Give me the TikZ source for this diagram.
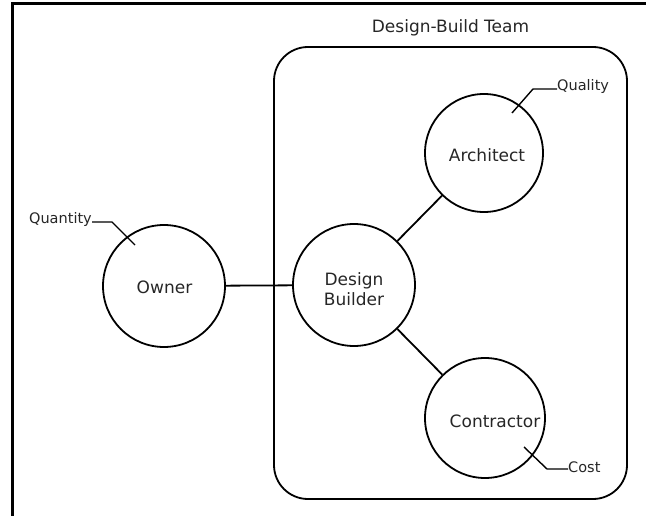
\documentclass[tikz,border=0pt]{standalone}
\usepackage{fontspec}
\setmainfont{DejaVu Sans}
\begin{document}
\begin{tikzpicture}[x=1pt,y=-1pt,
  role/.style={circle,draw=black,line width=1.8pt,inner sep=0pt},
  lbl/.style={font=\fontsize{17}{20}\selectfont,text=black!85,inner sep=0pt,align=center},
  small/.style={font=\fontsize{14.5}{16}\selectfont,text=black!85,inner sep=0pt},
  link/.style={line width=1.8pt},
  leader/.style={line width=1.4pt},
  teambox/.style={draw=black,line width=1.8pt,rounded corners=34pt,inner sep=0pt}]
\useasboundingbox (0,0) rectangle (646,516);
% outer frame (top and left edges)
\coordinate (fbl) at (12,516);
\coordinate (ftl) at (12,3.5);
\coordinate (ftr) at (646,3.5);
\draw[line width=3pt] (fbl) -- (ftl) -- (ftr);
% team box
\node[teambox,minimum width=353pt,minimum height=452pt] (team) at (450.5,273) {};
\node[lbl] (title) at (450.5,28) {Design-Build Team};
% circles
\node[role,minimum size=122pt] (owner) at (164,286) {};
\node[role,minimum size=122pt] (db) at (354,285) {};
\node[role,minimum size=118pt] (arch) at (484,153) {};
\node[role,minimum size=120pt] (con) at (485,418) {};
% labels
\node[lbl] (ownerT) at (164.5,287) {Owner};
\node[lbl] (dbT) at (354,289) {Design\\Builder};
\node[lbl] (archT) at (487,155) {Architect};
\node[lbl] (conT) at (495,421) {Contractor};
% connectors
\draw[link] (owner) -- (db);
\draw[link] (db) -- (arch);
\draw[link] (db) -- (con);
% leaders
\node[small,anchor=east] (qty) at (92,220) {Quantity};
\coordinate (qa) at (112,222);
\coordinate (qb) at (135,245);
\draw[leader] (qty.east |- qa) -- (qa) -- (qb);
\node[small,anchor=west] (qual) at (557,87) {Quality};
\coordinate (la) at (533,89);
\coordinate (lb) at (512,113);
\draw[leader] (qual.west |- la) -- (la) -- (lb);
\node[small,anchor=west] (cost) at (568,467) {Cost};
\coordinate (ca) at (547,469);
\coordinate (cb) at (524,447);
\draw[leader] (cost.west |- ca) -- (ca) -- (cb);
\end{tikzpicture}
\end{document}
